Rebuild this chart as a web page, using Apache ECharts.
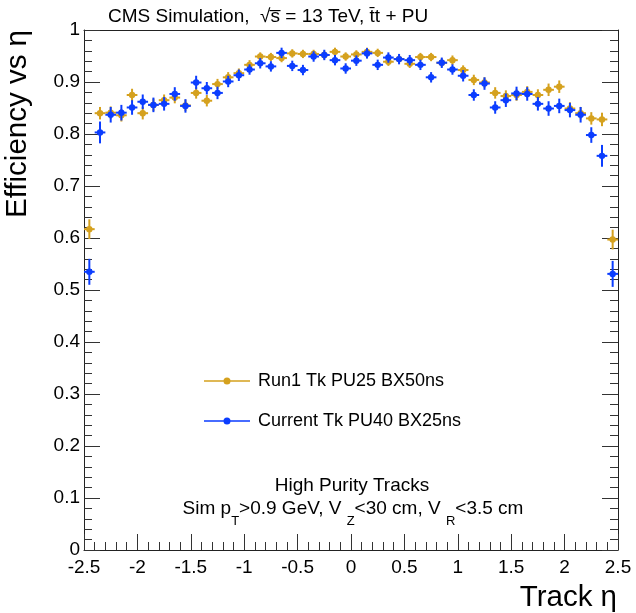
<!DOCTYPE html>
<html>
<head>
<meta charset="utf-8">
<script src="https://cdn.jsdelivr.net/npm/echarts@6/dist/echarts.min.js"></script>
<style>html,body{margin:0;padding:0;background:#fff;}#c{width:636px;height:613px;}</style>
</head>
<body>
<div id="c"></div>
<script>
const etaCenters = [-2.45,-2.35,-2.25,-2.15,-2.05,-1.95,-1.85,-1.75,-1.65,-1.55,-1.45,-1.35,-1.25,-1.15,-1.05,-0.95,-0.85,-0.75,-0.65,-0.55,-0.45,-0.35,-0.25,-0.15,-0.05,0.05,0.15,0.25,0.35,0.45,0.55,0.65,0.75,0.85,0.95,1.05,1.15,1.25,1.35,1.45,1.55,1.65,1.75,1.85,1.95,2.05,2.15,2.25,2.35,2.45];
const run1Eff = [0.617,0.840,0.841,0.836,0.875,0.840,0.856,0.865,0.870,0.855,0.879,0.864,0.896,0.909,0.917,0.933,0.949,0.948,0.946,0.955,0.954,0.954,0.952,0.958,0.949,0.953,0.958,0.956,0.939,0.944,0.935,0.948,0.948,0.937,0.942,0.923,0.904,0.899,0.879,0.873,0.875,0.881,0.875,0.885,0.891,0.849,0.840,0.830,0.828,0.597];
const run1Err = [0.019,0.012,0.012,0.012,0.012,0.012,0.012,0.011,0.011,0.011,0.011,0.011,0.010,0.010,0.009,0.009,0.008,0.008,0.008,0.008,0.008,0.008,0.008,0.008,0.008,0.008,0.008,0.008,0.008,0.008,0.008,0.008,0.008,0.008,0.009,0.009,0.010,0.010,0.011,0.011,0.011,0.011,0.011,0.012,0.012,0.012,0.012,0.012,0.013,0.019];
const currEff = [0.535,0.803,0.837,0.841,0.851,0.862,0.856,0.858,0.877,0.854,0.899,0.888,0.879,0.901,0.913,0.924,0.936,0.930,0.956,0.931,0.923,0.949,0.952,0.942,0.926,0.941,0.955,0.933,0.947,0.944,0.942,0.933,0.909,0.937,0.924,0.912,0.875,0.897,0.851,0.865,0.878,0.877,0.858,0.849,0.854,0.846,0.837,0.798,0.758,0.531];
const currErr = [0.025,0.021,0.015,0.015,0.014,0.014,0.014,0.013,0.013,0.013,0.013,0.012,0.012,0.011,0.011,0.010,0.010,0.010,0.010,0.010,0.010,0.010,0.010,0.010,0.010,0.010,0.010,0.010,0.010,0.010,0.010,0.010,0.010,0.010,0.010,0.011,0.011,0.012,0.012,0.013,0.013,0.013,0.013,0.014,0.014,0.014,0.015,0.015,0.021,0.025];
const binHalfWidth = 0.05;
const xTicks = ['-2.5','-2','-1.5','-1','-0.5','0','0.5','1','1.5','2','2.5'];
const yTicks = ['0','0.1','0.2','0.3','0.4','0.5','0.6','0.7','0.8','0.9','1'];

const FONT = 'Liberation Sans, Arial, Helvetica, sans-serif';
const ORANGE = '#D5A11E';
const BLUE = '#0B3DFF';

function makeData(vals, errs){
  return etaCenters.map((x,i)=>[x, vals[i], errs[i]]);
}
function errRender(color){
  return function(params, api){
    const x = api.value(0), y = api.value(1), e = api.value(2);
    const c = api.coord([x, y]);
    const l = api.coord([x - binHalfWidth, y])[0];
    const r = api.coord([x + binHalfWidth, y])[0];
    const t = api.coord([x, y + e])[1];
    const b = api.coord([x, y - e])[1];
    return {type:'group', children:[
      {type:'line', shape:{x1:l,y1:c[1],x2:r,y2:c[1]}, style:{stroke:color, lineWidth:2}},
      {type:'line', shape:{x1:c[0],y1:t,x2:c[0],y2:b}, style:{stroke:color, lineWidth:2}},
      {type:'circle', shape:{cx:c[0],cy:c[1],r:3.2}, style:{fill:color}}
    ]};
  };
}
const chart = echarts.init(document.getElementById('c'), null, {renderer:'canvas'});
const axisLineStyle = {show:true, onZero:false, lineStyle:{color:'#222', width:1}};
const legendIcon = 'path://M0,3.2H46V4.8H0Z M19.5,4A3.5,3.5,0,1,1,26.5,4A3.5,3.5,0,1,1,19.5,4Z';
chart.setOption({
  animation:false,
  backgroundColor:'#fff',
  grid:{left:84, right:18, top:30, bottom:63, containLabel:false},
  xAxis:[{
    type:'value', min:-2.5, max:2.5, interval:0.5, position:'bottom',
    axisLine:axisLineStyle, splitLine:{show:false},
    axisTick:{show:true, inside:true, length:16, lineStyle:{color:'#333'}},
    minorTick:{show:true, splitNumber:5, length:8, lineStyle:{color:'#333'}},
    axisLabel:{fontSize:19, color:'#000', fontFamily:FONT, margin:8,
      formatter:(v)=>{const i=xTicks.indexOf(String(+v.toFixed(1))); return i>=0?xTicks[i]:'';}}
  },{
    type:'value', min:-2.5, max:2.5, position:'top',
    axisLine:axisLineStyle, splitLine:{show:false}, axisTick:{show:false}, axisLabel:{show:false}
  }],
  yAxis:[{
    type:'value', min:0, max:1, interval:0.1, position:'left',
    axisLine:axisLineStyle, splitLine:{show:false},
    axisTick:{show:true, inside:true, length:16, lineStyle:{color:'#333'}},
    minorTick:{show:true, splitNumber:5, length:8, lineStyle:{color:'#333'}},
    axisLabel:{fontSize:19, color:'#000', fontFamily:FONT, margin:4,
      formatter:(v)=>yTicks[Math.round(v*10)]}
  },{
    type:'value', min:0, max:1, interval:0.1, position:'right',
    axisLine:axisLineStyle, splitLine:{show:false},
    axisTick:{show:true, inside:true, length:16, lineStyle:{color:'#333'}},
    minorTick:{show:true, splitNumber:5, length:8, lineStyle:{color:'#333'}},
    axisLabel:{show:false}
  }],
  legend:{
    orient:'vertical', left:204, top:372, padding:0, itemWidth:46, itemHeight:8, itemGap:22,
    textStyle:{fontSize:18, fontFamily:FONT, color:'#000', lineHeight:18, padding:[0,0,0,3]},
    data:[{name:'Run1 Tk PU25 BX50ns', icon:legendIcon},{name:'Current Tk PU40 BX25ns', icon:legendIcon}]
  },
  series:[{
    name:'Run1 Tk PU25 BX50ns', type:'custom', xAxisIndex:0, yAxisIndex:0,
    itemStyle:{color:ORANGE}, renderItem:errRender(ORANGE),
    encode:{x:0, y:1}, data:makeData(run1Eff, run1Err), z:2
  },{
    name:'Current Tk PU40 BX25ns', type:'custom', xAxisIndex:0, yAxisIndex:0,
    itemStyle:{color:BLUE}, renderItem:errRender(BLUE),
    encode:{x:0, y:1}, data:makeData(currEff, currErr), z:3
  }],
  graphic:[
    {type:'text', left:108, top:7, style:{text:'CMS Simulation,  \u221As\u0305 = 13 TeV, t\u0304t + PU', fontSize:19, fontFamily:FONT, fill:'#000'}},
    {type:'text', x:18, y:30, rotation:Math.PI/2, style:{text:'Efficiency vs \u03b7', fontSize:29.5, fontFamily:FONT, fill:'#000', align:'right', verticalAlign:'middle'}},
    {type:'text', x:617, y:598, style:{text:'Track \u03b7', fontSize:29.5, fontFamily:FONT, fill:'#000', align:'right', verticalAlign:'middle'}},
    {type:'text', x:352, y:486, style:{text:'High Purity Tracks', fontSize:19, fontFamily:FONT, fill:'#000', align:'center', verticalAlign:'middle'}},
    {type:'text', x:353, y:509, style:{
      text:'Sim p{sub|T}>0.9 GeV, V {sub|Z}<30 cm, V {sub|R}<3.5 cm',
      align:'center', verticalAlign:'middle', fontSize:19, fontFamily:FONT, fill:'#000',
      rich:{sub:{fontSize:13, fontFamily:FONT, fill:'#000', verticalAlign:'bottom', lineHeight:38}}
    }}
  ]
});
</script>
</body>
</html>
